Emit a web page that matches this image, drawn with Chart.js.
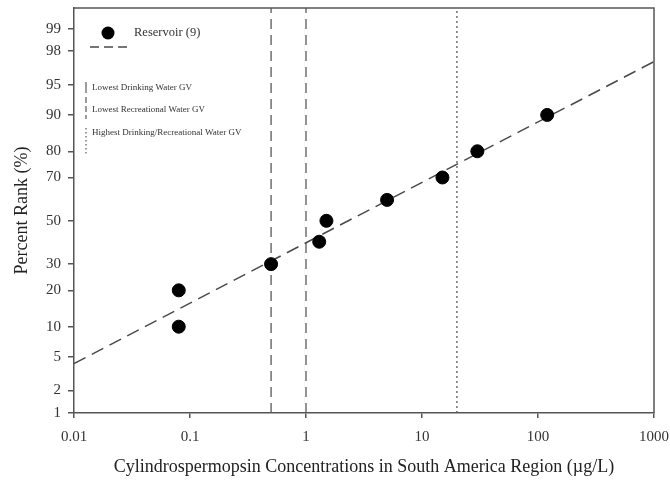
<!DOCTYPE html>
<html>
<head>
<meta charset="utf-8">
<script src="https://cdn.jsdelivr.net/npm/chart.js@4.4.1/dist/chart.umd.min.js"></script>
<style>
    html, body { margin: 0; padding: 0; background: #fff; }
    #wrap { width: 670px; height: 481px; }
</style>
</head>
<body>
<div id="wrap"><canvas id="myChart"></canvas></div>
<script>
// reservoir samples (x = concentration, y = percent rank)
const concentrations = [0.08, 0.08, 0.5, 1.3, 1.5, 5, 15, 30, 120];
const percentRanks = [10, 20, 30, 40, 50, 60, 70, 80, 90];

// fitted line end points
const fitX = [0.01, 1000];
const fitPct = [4.2, 97.3];

// guideline values
const guideValues = [0.5, 1, 20];
const guideLabels = ["Lowest Drinking Water GV", "Lowest Recreational Water GV", "Highest Drinking/Recreational Water GV"];

const xTicks = [0.01, 0.1, 1, 10, 100, 1000];
const xTickLabels = ["0.01", "0.1", "1", "10", "100", "1000"];
const yTicks = [1, 2, 5, 10, 20, 30, 50, 70, 80, 90, 95, 98, 99];

const serif = "'Liberation Serif', 'DejaVu Serif', serif";

// inverse normal cdf (Acklam), percent in -> z out
function probit(pct) {
    const p = pct / 100;
    const a = [-3.969683028665376e+01, 2.209460984245205e+02, -2.759285104469687e+02, 1.383577518672690e+02, -3.066479806614716e+01, 2.506628277459239e+00];
    const b = [-5.447609879822406e+01, 1.615858368580409e+02, -1.556989798598866e+02, 6.680131188771972e+01, -1.328068155922983e+01];
    const c = [-7.784894002430293e-03, -3.223964580411365e-01, -2.400758277161838e+00, -2.549732539343734e+00, 4.374664141464968e+00, 2.938163982698783e+00];
    const d = [7.784695709041462e-03, 3.224671290700398e-01, 2.445134137142996e+00, 3.754408661907416e+00];
    const pl = 0.02425;
    let q, r;
    if (p < pl) {
        q = Math.sqrt(-2 * Math.log(p));
        return (((((c[0]*q+c[1])*q+c[2])*q+c[3])*q+c[4])*q+c[5]) / ((((d[0]*q+d[1])*q+d[2])*q+d[3])*q+1);
    }
    if (p > 1 - pl) {
        q = Math.sqrt(-2 * Math.log(1 - p));
        return -(((((c[0]*q+c[1])*q+c[2])*q+c[3])*q+c[4])*q+c[5]) / ((((d[0]*q+d[1])*q+d[2])*q+d[3])*q+1);
    }
    q = p - 0.5;
    r = q * q;
    return (((((a[0]*r+a[1])*r+a[2])*r+a[3])*r+a[4])*r+a[5])*q / (((((b[0]*r+b[1])*r+b[2])*r+b[3])*r+b[4])*r+1);
}

const yMin = probit(1);
const yMax = probit(99.5);

const guideDash = [[10, 6], [10, 6], [2, 3]];

const guideSets = guideValues.map((v, i) => ({
    type: "line",
    label: guideLabels[i],
    data: [{ x: v, y: yMin }, { x: v, y: yMax }],
    borderColor: "#5a5a5a",
    borderWidth: 1.3,
    borderDash: guideDash[i],
    pointRadius: 0,
    order: 3,
}));

// legend drawn by hand, top-left inside the plot
const legendBox = {
    id: "legendBox",
    afterDatasetsDraw(chart) {
        const g = chart.ctx;
        g.save();
        g.fillStyle = "#000";
        g.beginPath();
        g.arc(108, 33, 6.5, 0, Math.PI * 2);
        g.fill();
        g.strokeStyle = "#4a4a4a";
        g.lineWidth = 1.5;
        g.setLineDash([9, 5]);
        g.beginPath();
        g.moveTo(90, 47);
        g.lineTo(127, 47);
        g.stroke();

        g.fillStyle = "#333";
        g.textBaseline = "middle";
        g.font = "12.5px " + serif;
        g.fillText("Reservoir (9)", 134, 33);

        g.font = "9px " + serif;
        const rows = [[82, 93, 88], [97, 119, 110], [128, 155, 133]];
        rows.forEach((row, i) => {
            g.strokeStyle = "#5a5a5a";
            g.lineWidth = 1.2;
            g.setLineDash(i == 2 ? [1.5, 2.5] : (i == 1 ? [6, 3] : []));
            g.beginPath();
            g.moveTo(86, row[0]);
            g.lineTo(86, row[1]);
            g.stroke();
            g.fillText(guideLabels[i], 92, row[2]);
        });
        g.restore();
    },
    afterDraw(chart) {
        const a = chart.chartArea;
        const g = chart.ctx;
        g.save();
        g.strokeStyle = "#555";
        g.lineWidth = 1.5;
        g.beginPath();
        g.moveTo(a.left, a.top);
        g.lineTo(a.right, a.top);
        g.lineTo(a.right, a.bottom);
        g.stroke();
        g.restore();
    }
};

const ctx = document.getElementById("myChart");

let myChart = new Chart(ctx, {
    data: {
        datasets: [
            {
                type: "scatter",
                label: "Reservoir (9)",
                data: concentrations.map((x, i) => ({ x: x, y: probit(percentRanks[i]) })),
                backgroundColor: "#000",
                borderColor: "#000",
                pointRadius: 6.5,
                order: 1,
            },
            {
                type: "line",
                label: "fit",
                data: fitX.map((x, i) => ({ x: x, y: probit(fitPct[i]) })),
                borderColor: "#4a4a4a",
                borderWidth: 1.5,
                borderDash: [13, 7],
                pointRadius: 0,
                order: 2,
            },
            ...guideSets,
        ],
    },
    options: {
        responsive: true,
        maintainAspectRatio: false,
        animation: false,
        layout: { padding: { top: 8, right: 16, left: 0, bottom: 0 } },
        plugins: {
            legend: { display: false },
            tooltip: { enabled: false },
        },
        scales: {
            x: {
                type: "logarithmic",
                min: 0.01,
                max: 1000,
                afterBuildTicks: s => { s.ticks = xTicks.map(v => ({ value: v })); },
                afterFit: s => { s.height = 68; s.paddingLeft = 0; s.paddingRight = 0; },
                ticks: {
                    autoSkip: false,
                    maxRotation: 0,
                    padding: 10,
                    color: "#333",
                    font: { family: serif, size: 15 },
                    callback: (v, i) => xTickLabels[i],
                },
                grid: { drawOnChartArea: false, drawTicks: true, tickLength: 5, color: "#555", lineWidth: 1.5 },
                border: { color: "#555", width: 1.5 },
                title: {
                    display: true,
                    text: "Cylindrospermopsin Concentrations in South America Region (µg/L)",
                    color: "#222",
                    font: { family: serif, size: 18 },
                    padding: { top: 0, bottom: 3 },
                },
            },
            y: {
                type: "linear",
                min: yMin,
                max: yMax,
                afterBuildTicks: s => { s.ticks = yTicks.map(p => ({ value: probit(p) })); },
                afterFit: s => { s.width = 74; s.paddingTop = 0; s.paddingBottom = 0; },
                ticks: {
                    autoSkip: false,
                    padding: 7,
                    color: "#333",
                    font: { family: serif, size: 15 },
                    callback: (v, i) => String(yTicks[i]),
                },
                grid: { drawOnChartArea: false, drawTicks: true, tickLength: 6, color: "#555", lineWidth: 1.5 },
                border: { color: "#555", width: 1.5 },
                title: {
                    display: true,
                    text: "Percent Rank (%)",
                    color: "#222",
                    font: { family: serif, size: 18 },
                    padding: { top: 11, bottom: 0 },
                },
            }
        }
    },
    plugins: [legendBox],
});
</script>
</body>
</html>
